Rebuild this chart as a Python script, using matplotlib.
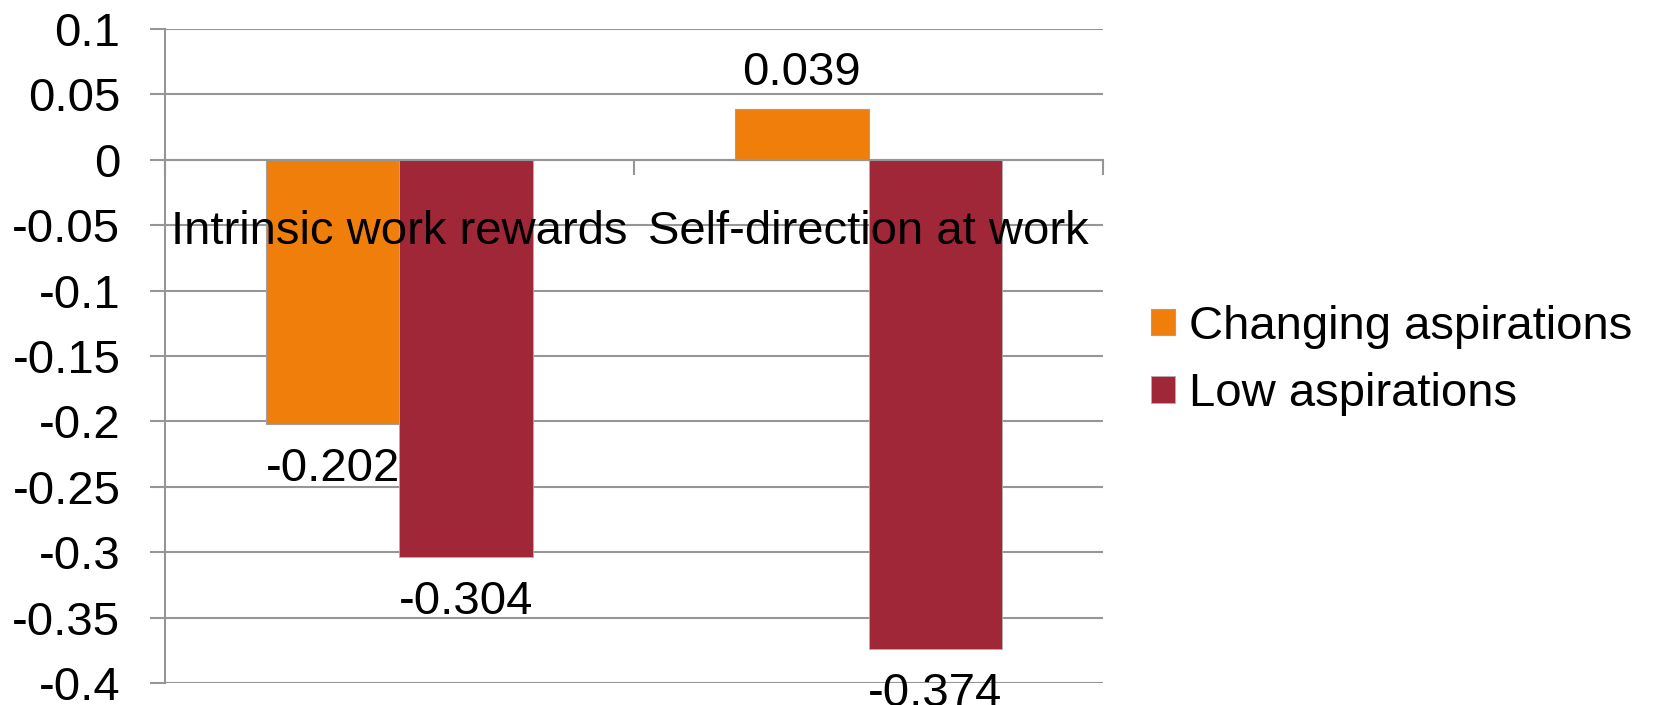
import matplotlib
matplotlib.use('Agg')

import matplotlib.pyplot as plt
import numpy as np

# Regression coefficients by work outcome and aspiration group
categories = ['Intrinsic work rewards', 'Self-direction at work']
changing_aspirations = [-0.202, 0.039]
low_aspirations = [-0.304, -0.374]
series_names = ['Changing aspirations', 'Low aspirations']
y_ticks = [0.1, 0.05, 0, -0.05, -0.1, -0.15, -0.2, -0.25, -0.3, -0.35, -0.4]

plt.rcParams['font.family'] = ['Liberation Sans', 'DejaVu Sans']
FS = 34
GRID = '#969696'

fig = plt.figure(figsize=(16.56, 7.05), dpi=100)
ax = fig.add_axes([0.0996, 0.0312, 0.5665, 0.9277])

x = np.arange(len(categories))
w = 0.285

bars1 = ax.bar(x - w / 2, changing_aspirations, w, color='#EF7F0A',
               edgecolor='#A0A0A0', linewidth=0.8, label=series_names[0], zorder=1)
bars2 = ax.bar(x + w / 2, low_aspirations, w, color='#A02737',
               edgecolor='#B0B0B0', linewidth=0.6, label=series_names[1], zorder=1)

ax.set_xlim(-0.5, len(categories) - 0.5)
ax.set_ylim(min(y_ticks), max(y_ticks))

# horizontal grid behind the bars
for v in y_ticks:
    ax.axhline(v, color=GRID, linewidth=1.5, zorder=0)

ax.set_yticks(y_ticks)
ax.set_yticklabels([f'{round(v, 2) + 0.0:g}' for v in y_ticks], fontsize=FS)
ax.tick_params(axis='y', direction='out', length=11, width=1.5, color=GRID, pad=21)

# category axis sits on zero, ticks at category boundaries
ax.spines['bottom'].set_position(('data', 0))
ax.spines['bottom'].set_color(GRID)
ax.spines['bottom'].set_linewidth(1.5)
ax.spines['left'].set_color(GRID)
ax.spines['left'].set_linewidth(1.5)
ax.spines['top'].set_visible(False)
ax.spines['right'].set_visible(False)

ax.set_xticks(np.arange(-0.5, len(categories)), labels=[''] * (len(categories) + 1))
ax.tick_params(axis='x', which='major', direction='out', length=11, width=1.5, color=GRID)
ax.set_xticks(x, labels=categories, minor=True)
ax.tick_params(axis='x', which='minor', length=0, pad=36.5, labelsize=FS)

# value labels outside the bar ends
for bars in (bars1, bars2):
    for b in bars:
        v = b.get_height()
        xc = b.get_x() + b.get_width() / 2
        off = 17 if v >= 0 else -41
        ax.annotate(f'{v:g}', (xc, v), xytext=(0, off), textcoords='offset points',
                    ha='center', va='baseline', fontsize=FS, annotation_clip=False)

fig.legend(handles=[bars1, bars2], labels=series_names, loc='center left',
           bbox_to_anchor=(0.695, 0.4886), frameon=False, fontsize=FS,
           handlelength=0.5, handleheight=0.5, handletextpad=0.3,
           labelspacing=0.5, borderpad=0, borderaxespad=0)

fig.savefig('out.png', dpi=100)
plt.close(fig)
